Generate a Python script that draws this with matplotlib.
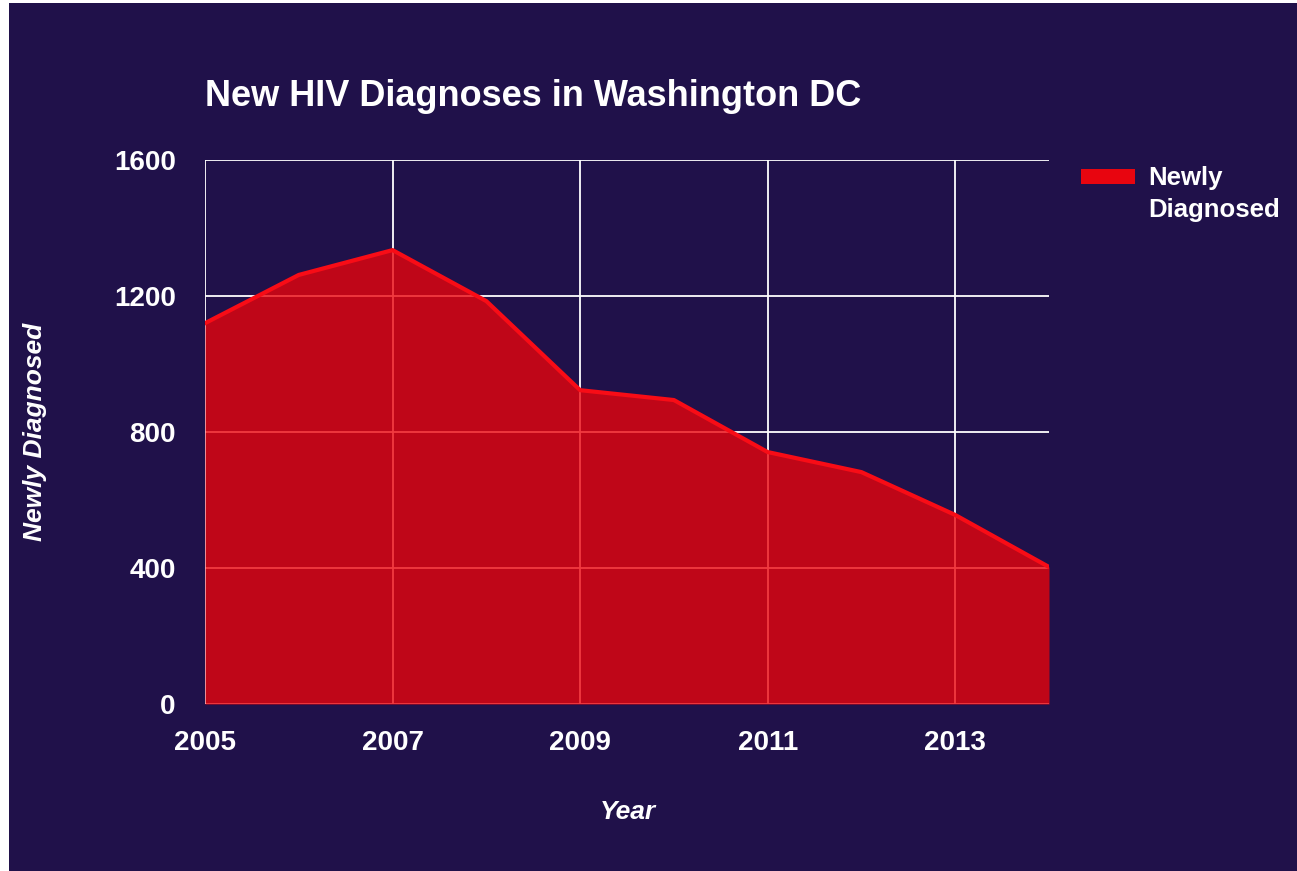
import matplotlib.pyplot as plt
from matplotlib.patches import Rectangle, Patch
from matplotlib.legend_handler import HandlerPatch

years = [2005, 2006, 2007, 2008, 2009, 2010, 2011, 2012, 2013, 2014]
newly_diagnosed = [1120, 1262, 1335, 1185, 923, 894, 741, 682, 556, 403]
x_ticks = [2005, 2007, 2009, 2011, 2013]
y_ticks = [0, 400, 800, 1200, 1600]

bg = '#20114a'
fill_red = '#ed030a'
line_red = '#f80c16'

plt.rcParams['font.family'] = ['Liberation Sans', 'DejaVu Sans']

fig = plt.figure(figsize=(12.97, 8.71), dpi=100, facecolor='white')
fig.patches.append(Rectangle((9 / 1297, 0), 1, 1 - 3 / 871, transform=fig.transFigure,
                             facecolor=bg, edgecolor='none', zorder=-10))

ax = fig.add_axes([205 / 1297, 1 - 704 / 871, 844 / 1297, 544 / 871])
ax.set_facecolor(bg)

ax.fill_between(years, newly_diagnosed, 0, color=fill_red, alpha=0.78, linewidth=0, zorder=3)
ax.plot(years, newly_diagnosed, color=line_red, linewidth=3, zorder=4, solid_joinstyle='round')

ax.set_xlim(2005, 2014)
ax.set_ylim(0, 1600)
ax.set_xticks(x_ticks)
ax.set_yticks(y_ticks)
ax.grid(True, color='white', linewidth=1.3, zorder=2)
ax.set_axisbelow(True)
for s in ax.spines.values():
    s.set_visible(False)
ax.tick_params(length=0, colors='white', labelsize=20)
ax.tick_params(axis='x', pad=19)
ax.tick_params(axis='y', pad=21)
for lbl in ax.get_xticklabels() + ax.get_yticklabels():
    lbl.set_fontweight('bold')

fig.text(205 / 1297, 1 - 97 / 871, 'New HIV Diagnoses in Washington DC', color='white',
         fontsize=26, fontweight='bold', va='center', ha='left')
fig.text(628 / 1297, 1 - 812 / 871, 'Year', color='white', fontsize=19,
         fontstyle='italic', fontweight='bold', ha='center', va='center')
fig.text(35 / 1297, 1 - 432 / 871, 'Newly Diagnosed', color='white', fontsize=19,
         fontstyle='italic', fontweight='bold', rotation=90, ha='center', va='center')


# legend swatch sits level with the first line of the label, like the original
def top_swatch(legend, orig_handle, xdescent, ydescent, width, height, fontsize):
    return Rectangle((-xdescent, -ydescent + 13), width, height)


handle = Patch(facecolor='#e8050f', edgecolor='none')
leg = fig.legend([handle], ['Newly\nDiagnosed'], loc='upper left',
                 bbox_to_anchor=(1058 / 1297, 1 - 143 / 871), frameon=False,
                 handlelength=2.1, handleheight=0.55, handletextpad=0.5,
                 handler_map={Patch: HandlerPatch(patch_func=top_swatch)},
                 prop={'size': 18.5, 'weight': 'bold'})
for t in leg.get_texts():
    t.set_color('white')
    t.set_linespacing(1.4)

fig.savefig('out.png', dpi=100, facecolor='white')
